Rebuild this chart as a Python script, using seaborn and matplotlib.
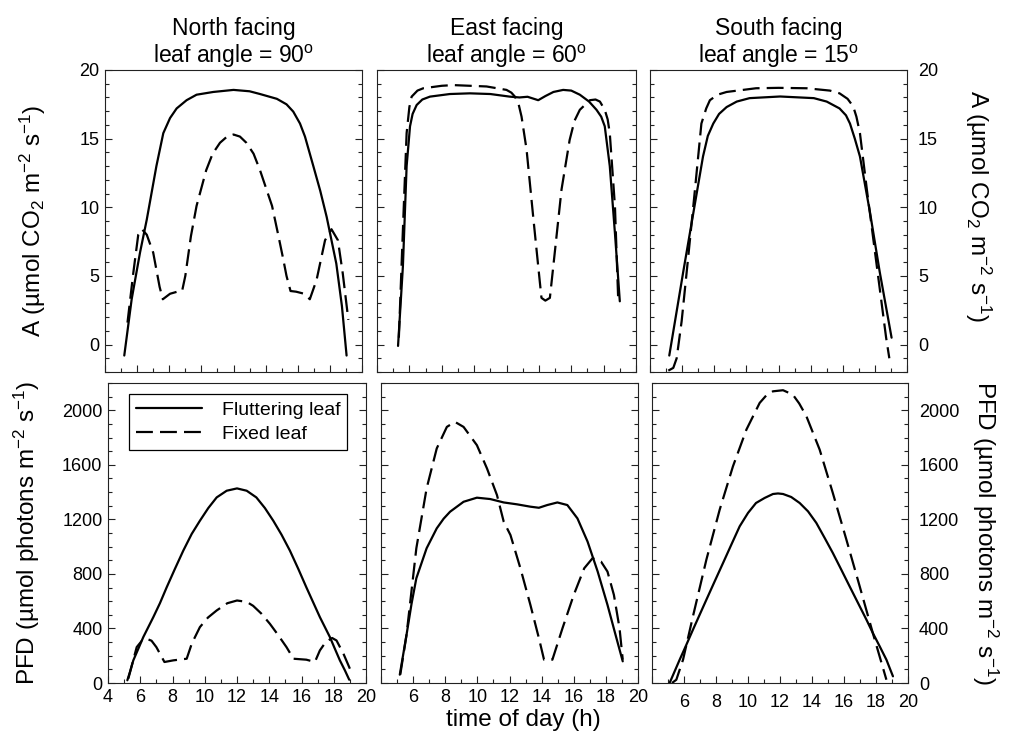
import matplotlib
matplotlib.use("Agg")
import matplotlib.pyplot as plt
from matplotlib.ticker import MultipleLocator, FixedLocator
import numpy as np
import pandas as pd
import seaborn as sns

# ---------------- data ----------------
titles = ["North facing\nleaf angle = 90$^\\mathrm{o}$",
          "East facing\nleaf angle = 60$^\\mathrm{o}$",
          "South facing\nleaf angle = 15$^\\mathrm{o}$"]
series_names = ["Fluttering leaf", "Fixed leaf"]

# --- Net photosynthesis A (umol CO2 m-2 s-1) ---
north_A_flut_x = [5.2, 5.66, 6.18, 6.6, 7.2, 7.63, 8.05, 8.46, 9.08, 9.7, 10.74, 12.0, 13.0, 13.65, 14.7, 15.3, 15.72, 16.14, 16.45, 16.97, 17.4, 17.8, 18.1, 18.4, 18.75, 19.04]
north_A_flut_y = [-0.8, 3.3, 6.7, 9.1, 13.0, 15.4, 16.5, 17.2, 17.8, 18.2, 18.4, 18.55, 18.45, 18.25, 17.9, 17.5, 16.97, 16.1, 15.15, 13.0, 11.2, 9.3, 7.6, 5.9, 2.8, -0.8]
north_A_fix_x = [5.4, 5.76, 6.07, 6.3, 6.6, 7.0, 7.4, 7.6, 8.05, 8.5, 8.8, 9.0, 9.35, 9.7, 10.3, 10.7, 11.16, 11.6, 12.0, 12.4, 12.8, 13.25, 13.65, 14.4, 14.8, 15.1, 15.3, 15.55, 15.9, 16.4, 16.75, 17.17, 17.7, 18.1, 18.5, 18.8, 19.15]
north_A_fix_y = [1.6, 5.2, 8.0, 8.4, 8.0, 6.7, 4.2, 3.3, 3.7, 3.85, 3.9, 5.0, 7.9, 10.1, 12.7, 13.9, 14.7, 15.15, 15.3, 15.15, 14.7, 13.9, 12.7, 10.1, 7.9, 6.2, 5.0, 3.9, 3.85, 3.7, 3.3, 4.7, 7.6, 8.4, 7.6, 5.2, 1.8]

east_A_flut_x = [5.3, 5.45, 5.6, 5.83, 6.04, 6.2, 6.45, 6.8, 7.27, 8.5, 9.74, 11.0, 12.2, 12.8, 13.3, 13.96, 14.4, 14.9, 15.5, 16.0, 16.53, 17.1, 17.56, 17.85, 18.07, 18.38, 18.7, 19.0]
east_A_flut_y = [-0.1, 2.8, 5.7, 13.0, 15.9, 16.8, 17.45, 17.85, 18.06, 18.25, 18.3, 18.25, 18.06, 18.0, 18.05, 17.8, 18.1, 18.4, 18.55, 18.5, 18.2, 17.7, 17.1, 16.6, 15.9, 13.0, 8.1, 3.15]
east_A_fix_x = [5.35, 5.63, 5.83, 6.0, 6.14, 6.5, 6.86, 8.0, 8.71, 10.77, 12.0, 12.3, 12.52, 12.75, 12.93, 13.24, 13.65, 13.96, 14.16, 14.4, 14.68, 15.0, 15.4, 15.9, 16.2, 16.53, 17.15, 17.5, 17.77, 18.07, 18.25, 18.38, 18.7, 18.9]
east_A_fix_y = [0.5, 9.3, 15.4, 17.3, 18.06, 18.5, 18.67, 18.85, 18.9, 18.8, 18.55, 18.35, 18.06, 17.5, 16.6, 14.2, 9.3, 5.7, 3.4, 3.2, 3.4, 6.9, 11.3, 14.9, 16.3, 17.1, 17.8, 17.85, 17.7, 17.1, 16.4, 15.4, 10.06, 3.3]

south_A_flut_x = [5.2, 5.6, 6.07, 6.7, 7.3, 7.6, 7.94, 8.3, 8.77, 9.4, 10.2, 12.1, 14.2, 15.0, 15.8, 16.2, 16.45, 16.75, 17.07, 17.7, 18.3, 19.04]
south_A_flut_y = [-0.8, 2.0, 5.3, 9.6, 13.7, 15.2, 16.1, 16.8, 17.3, 17.7, 17.95, 18.07, 17.95, 17.7, 17.2, 16.7, 16.1, 15.0, 13.7, 9.6, 5.3, 0.5]
south_A_fix_x = [5.14, 5.45, 5.66, 5.97, 6.39, 6.8, 7.2, 7.5, 7.73, 8.2, 8.77, 10.6, 12.0, 13.75, 15.2, 15.8, 16.3, 16.65, 16.85, 17.07, 17.5, 17.9, 18.3, 18.7, 18.9]
south_A_fix_y = [-1.9, -1.7, -1.0, 1.7, 6.5, 11.3, 16.1, 17.2, 17.8, 18.2, 18.4, 18.67, 18.7, 18.67, 18.5, 18.3, 17.9, 17.35, 16.6, 15.4, 11.3, 7.7, 4.1, 0.5, -1.0]

# --- Photon flux density PFD (umol photons m-2 s-1) ---
north_P_flut_x = [5.2, 5.36, 5.57, 5.88, 6.19, 6.5, 6.81, 7.22, 7.64, 8.15, 8.67, 9.19, 9.7, 10.22, 10.74, 11.36, 12.0, 12.6, 13.2, 13.73, 14.25, 14.76, 15.28, 15.8, 16.3, 16.73, 17.14, 17.45, 17.76, 18.07, 18.38, 18.69, 18.96]
north_P_flut_y = [20, 80, 166, 251, 337, 410, 483, 585, 702, 837, 971, 1093, 1190, 1283, 1361, 1410, 1427, 1410, 1361, 1283, 1190, 1088, 971, 837, 702, 590, 483, 410, 337, 251, 166, 93, 24]
north_P_fix_x = [5.26, 5.78, 6.1, 6.4, 6.7, 7.0, 7.5, 8.05, 8.88, 9.2, 9.7, 10.2, 10.74, 11.4, 12.0, 12.6, 13.0, 13.5, 14.04, 14.5, 15.07, 15.5, 16.3, 16.83, 17.14, 17.5, 17.9, 18.17, 18.6, 19.0]
north_P_fix_y = [32, 263, 310, 324, 310, 263, 154, 166, 178, 290, 410, 480, 532, 585, 605, 595, 566, 510, 434, 360, 263, 178, 171, 154, 239, 300, 330, 312, 215, 105]

east_P_flut_x = [5.17, 5.59, 5.9, 6.2, 6.84, 7.47, 7.9, 8.3, 9.14, 9.97, 10.8, 11.64, 12.48, 13.3, 13.83, 14.35, 14.98, 15.6, 16.23, 16.86, 17.49, 18.1, 18.6, 19.05]
east_P_flut_y = [61, 354, 580, 768, 988, 1134, 1205, 1256, 1329, 1359, 1349, 1324, 1310, 1293, 1285, 1305, 1324, 1305, 1207, 1037, 817, 573, 354, 159]
east_P_fix_x = [5.2, 5.59, 6.2, 6.84, 7.47, 8.1, 8.6, 9.14, 9.97, 10.6, 11.22, 11.64, 12.06, 12.68, 13.3, 13.83, 14.15, 14.67, 15.3, 16.0, 16.65, 17.17, 17.7, 18.1, 18.5, 18.85, 19.05]
east_P_fix_y = [61, 354, 988, 1427, 1720, 1878, 1915, 1878, 1744, 1573, 1378, 1183, 1085, 841, 573, 329, 171, 171, 402, 646, 841, 915, 890, 817, 646, 402, 171]

south_P_flut_x = [5.1, 5.73, 6.15, 6.56, 6.98, 7.4, 7.92, 8.44, 8.96, 9.48, 10.0, 10.5, 11.04, 11.56, 11.875, 12.19, 12.7, 13.23, 13.75, 14.27, 14.79, 15.3, 15.83, 16.35, 16.875, 17.4, 17.8, 18.23, 18.65, 19.06]
south_P_flut_y = [0, 171, 281, 391, 501, 611, 746, 880, 1015, 1149, 1247, 1320, 1357, 1386, 1390, 1386, 1364, 1320, 1259, 1174, 1064, 954, 831, 709, 587, 465, 367, 269, 171, 49]
south_P_fix_x = [5.25, 5.52, 5.94, 6.56, 7.4, 8.23, 9.06, 9.9, 10.73, 11.15, 11.56, 12.19, 12.8, 13.2, 13.65, 14.48, 15.3, 16.15, 16.98, 17.8, 18.65]
south_P_fix_y = [0, 24, 171, 489, 905, 1271, 1589, 1858, 2054, 2110, 2139, 2147, 2115, 2050, 1956, 1711, 1394, 1051, 709, 367, 24]

A_panels = [(north_A_flut_x, north_A_flut_y, north_A_fix_x, north_A_fix_y),
            (east_A_flut_x, east_A_flut_y, east_A_fix_x, east_A_fix_y),
            (south_A_flut_x, south_A_flut_y, south_A_fix_x, south_A_fix_y)]
P_panels = [(north_P_flut_x, north_P_flut_y, north_P_fix_x, north_P_fix_y),
            (east_P_flut_x, east_P_flut_y, east_P_fix_x, east_P_fix_y),
            (south_P_flut_x, south_P_flut_y, south_P_fix_x, south_P_fix_y)]

x_ticks = [4, 6, 8, 10, 12, 14, 16, 18, 20]
A_ticks = [0, 5, 10, 15, 20]
P_ticks = [0, 400, 800, 1200, 1600, 2000]

A_label = "A (\u00b5mol CO$_2$ m$^{-2}$ s$^{-1}$)"
P_label = "PFD (\u00b5mol photons m$^{-2}$ s$^{-1}$)"
x_label = "time of day (h)"

# ---------------- style ----------------
sns.set_style("ticks")
plt.rcParams["font.family"] = ["Liberation Sans", "DejaVu Sans"]
plt.rcParams["mathtext.fontset"] = "custom"
plt.rcParams["mathtext.rm"] = "Liberation Sans"
plt.rcParams["mathtext.it"] = "Liberation Sans:italic"
plt.rcParams["mathtext.bf"] = "Liberation Sans:bold"
for k in ["text.color", "axes.labelcolor", "xtick.color", "ytick.color", "axes.edgecolor"]:
    plt.rcParams[k] = "black"

W, H = 1013, 744
fig = plt.figure(figsize=(W / 100, H / 100), dpi=100)

def rect(l, t, r, b):
    return [l / W, 1 - b / H, (r - l) / W, (b - t) / H]

top_rects = [rect(105, 70, 362, 372), rect(377, 70, 636, 372), rect(650, 70, 907, 372)]
bot_rects = [rect(108, 383, 366, 683), rect(381, 383, 638, 683), rect(652, 383, 908, 683)]

LW = 1.6
DASH = (0, (7.6, 3.2))

def draw(ax, fx, fy, dx, dy):
    d1 = pd.DataFrame({"x": fx, "y": fy})
    d2 = pd.DataFrame({"x": dx, "y": dy})
    sns.lineplot(data=d1, x="x", y="y", ax=ax, color="black", lw=LW,
                 label=series_names[0], legend=False)
    sns.lineplot(data=d2, x="x", y="y", ax=ax, color="black", lw=LW,
                 linestyle=DASH, label=series_names[1], legend=False)

def style_ax(ax):
    for s in ax.spines.values():
        s.set_color("#222222")
        s.set_linewidth(0.8)
    ax.tick_params(which="both", direction="in", left=True, right=True,
                   bottom=True, top=False, color="#222222", width=0.8,
                   labelsize=13, pad=4)
    ax.tick_params(which="major", length=5)
    ax.tick_params(which="minor", length=3)
    ax.set_xlim(4, 20)
    ax.xaxis.set_major_locator(FixedLocator(x_ticks))
    ax.xaxis.set_minor_locator(MultipleLocator(1))
    ax.set_xlabel("")
    ax.set_ylabel("")

axes_top, axes_bot = [], []
for i in range(3):
    ax = fig.add_axes(top_rects[i])
    draw(ax, *A_panels[i])
    style_ax(ax)
    ax.set_ylim(-2, 20)
    ax.yaxis.set_major_locator(FixedLocator(A_ticks))
    ax.yaxis.set_minor_locator(MultipleLocator(1))
    ax.tick_params(labelbottom=False)
    ax.set_title(titles[i], fontsize=16.5, pad=5, linespacing=1.15)
    axes_top.append(ax)

    bx = fig.add_axes(bot_rects[i])
    draw(bx, *P_panels[i])
    style_ax(bx)
    bx.set_ylim(0, 2200)
    bx.yaxis.set_major_locator(FixedLocator(P_ticks))
    bx.yaxis.set_minor_locator(MultipleLocator(100))
    if i > 0:
        bx.set_xticklabels([""] + [str(t) for t in x_ticks[1:]])
    axes_bot.append(bx)

axes_top[0].tick_params(labelleft=True, labelright=False)
axes_bot[0].tick_params(labelleft=True, labelright=False)
for ax in (axes_top[1], axes_bot[1]):
    ax.tick_params(labelleft=False, labelright=False)
for ax in (axes_top[2], axes_bot[2]):
    ax.tick_params(labelleft=False, labelright=True, pad=8)

axes_top[0].set_ylabel(A_label, fontsize=17.5, va="center")
axes_top[0].yaxis.set_label_coords(-0.28, 0.5)
axes_bot[0].set_ylabel(P_label, fontsize=17.5, va="center")
axes_bot[0].yaxis.set_label_coords(-0.314, 0.5)

axes_top[2].yaxis.set_label_position("right")
axes_top[2].set_ylabel(A_label, fontsize=17.5, rotation=270, va="center")
axes_top[2].yaxis.set_label_coords(1.276, 0.55)
axes_bot[2].yaxis.set_label_position("right")
axes_bot[2].set_ylabel(P_label, fontsize=17.5, rotation=270, va="center")
axes_bot[2].yaxis.set_label_coords(1.30, 0.5)

axes_bot[1].set_xlabel(x_label, fontsize=17.5, va="center")
axes_bot[1].xaxis.set_label_coords(0.553, -0.123)

leg = axes_bot[0].legend(handles=axes_bot[0].get_lines()[:2], labels=series_names,
                         loc="upper left", bbox_to_anchor=(0.045, 0.995),
                         fontsize=14, handlelength=3.4, frameon=True,
                         fancybox=False, framealpha=1, edgecolor="black",
                         borderpad=0.35, labelspacing=0.35, handletextpad=1.0)
leg.get_frame().set_linewidth(0.9)

fig.savefig("out.png", dpi=100, facecolor="white")
